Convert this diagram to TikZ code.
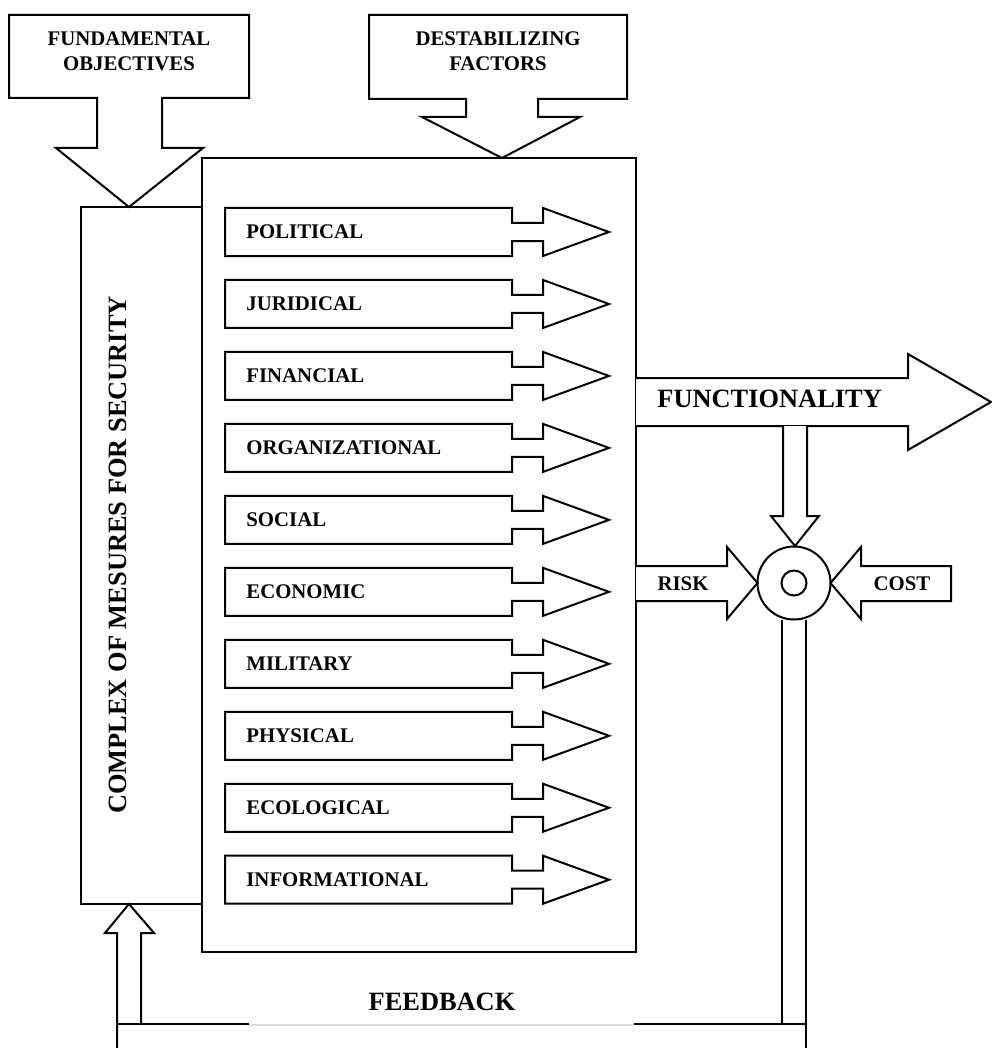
\documentclass[tikz,border=0pt]{standalone}
\usepackage{fontspec}
\setmainfont{Liberation Serif}
\begin{document}
\begin{tikzpicture}[x=0.5pt,y=-0.5pt,
  blk/.style={draw=black,line width=1pt,fill=white},
  ln/.style={draw=black,line width=1pt},
  lbl/.style={inner sep=0pt,font=\bfseries\fontsize{10.4pt}{12.5pt}\selectfont},
  biglbl/.style={inner sep=0pt,font=\bfseries\fontsize{13.2pt}{15pt}\selectfont}]
\useasboundingbox (0,0) rectangle (991,1048);
% left box and main box
\draw[blk] (81,207) rectangle (202,904);
\draw[blk] (202,158) rectangle (636,952);
% fundamental objectives callout
\draw[blk] (9,15) -- (249,15) -- (249,98) -- (162,98) -- (162,148) -- (203,148) -- (129,207) -- (56,148) -- (97,148) -- (97,98) -- (9,98) -- cycle;
\node[lbl,align=center] (fo) at (129,51.5) {FUNDAMENTAL\\OBJECTIVES};
% destabilizing factors callout
\draw[blk] (369,15) -- (627,15) -- (627,99) -- (538,99) -- (538,117) -- (580,117) -- (502,158) -- (422,117) -- (466,117) -- (466,99) -- (369,99) -- cycle;
\node[lbl,align=center] (df) at (498,51.5) {DESTABILIZING\\FACTORS};
% complex text
\node[biglbl,rotate=90] (cm) at (118,555) {COMPLEX OF MESURES FOR SECURITY};
% row arrows
\foreach \lab [count=\i from 0] in {POLITICAL,JURIDICAL,FINANCIAL,ORGANIZATIONAL,SOCIAL,ECONOMIC,MILITARY,PHYSICAL,ECOLOGICAL,INFORMATIONAL}{
  \pgfmathsetmacro\c{232+71.97*\i}
  \draw[blk] (225,\c-24) -- (512,\c-24) -- (512,\c-9) -- (543,\c-9) -- (543,\c-24) -- (609,\c) -- (543,\c+24) -- (543,\c+9) -- (512,\c+9) -- (512,\c+24) -- (225,\c+24) -- cycle;
  \node[lbl,anchor=west] (row\i) at (246,\c) {\lab};
}
% functionality arrow
\draw[blk] (636,378) -- (908,378) -- (908,354) -- (991,402) -- (908,450) -- (908,426) -- (636,426);
\node[biglbl,anchor=west] (func) at (657,399) {FUNCTIONALITY};
% down arrow into circle
\draw[blk] (783,426) -- (783,516) -- (771,516) -- (795,546) -- (819,516) -- (807,516) -- (807,426);
% circle
\node[draw,line width=1pt,circle,minimum size=36.5pt,inner sep=0pt] (sum) at (794,583) {};
\node[draw,line width=1pt,circle,minimum size=12.5pt,inner sep=0pt] (sumin) at (sum.center) {};
% risk arrow
\draw[blk] (636,566) -- (727,566) -- (727,547) -- (757.5,583) -- (727,619) -- (727,601) -- (636,601);
\node[lbl] (risk) at (683,584) {RISK};
% cost arrow
\draw[blk] (951,566) -- (861,566) -- (861,547) -- (830.5,583) -- (861,619) -- (861,601) -- (951,601) -- cycle;
\node[lbl] (cost) at (902,584) {COST};
% feedback path
\draw[ln] (117,1050) -- (117,933) -- (105,933) -- (129,904) -- (154,933) -- (141,933) -- (141,1024);
\draw[ln] (782,619.5) -- (782,1024);
\draw[ln] (806,619.5) -- (806,1048);
\draw[ln] (117,1024) -- (249,1024);
\draw[ln] (634,1024) -- (806,1024);
\draw[draw=black!15,line width=0.6pt] (249,1025) -- (634,1025);
\node[biglbl] (fb) at (442,1002) {FEEDBACK};
\end{tikzpicture}
\end{document}
